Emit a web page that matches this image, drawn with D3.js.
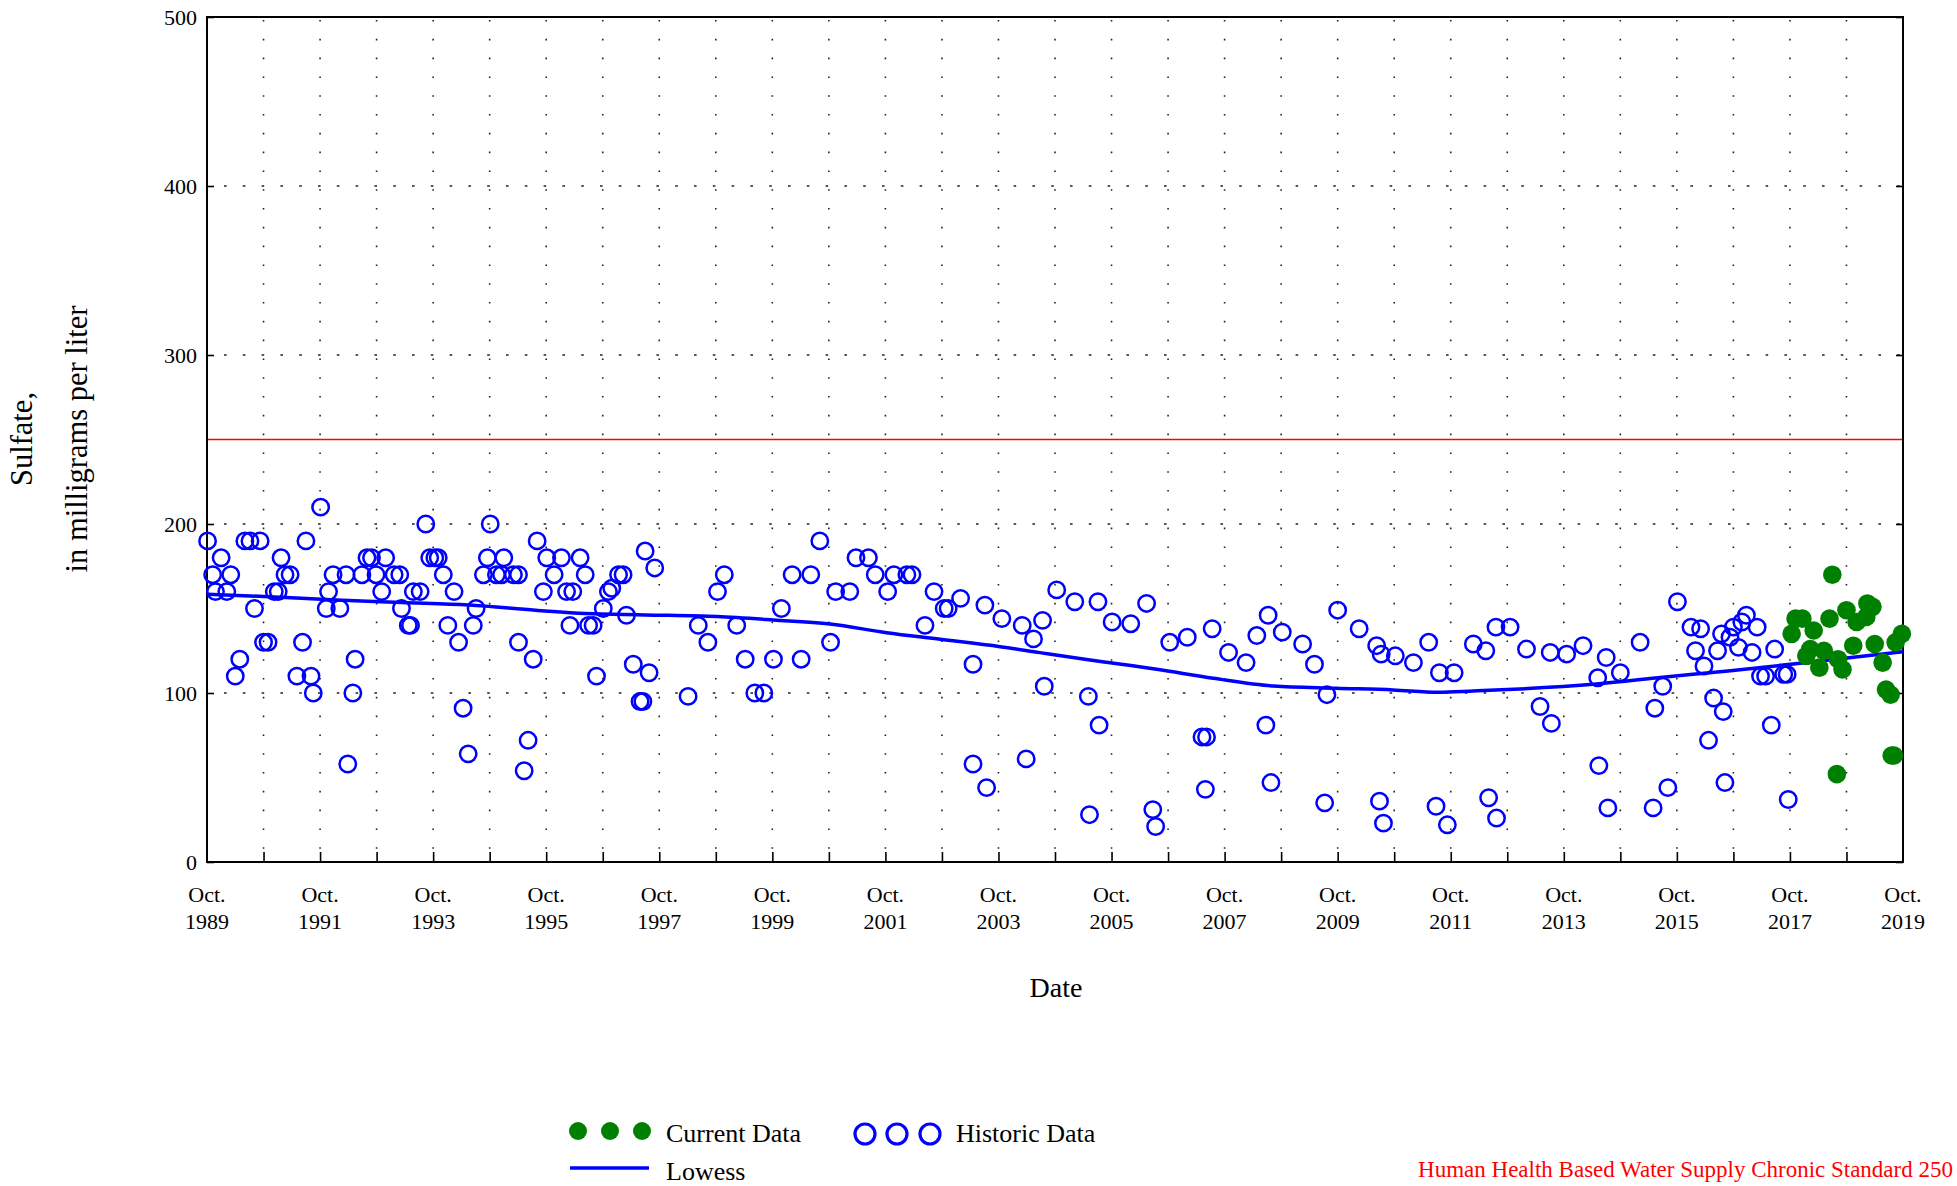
<!DOCTYPE html>
<html>
<head>
<meta charset="utf-8">
<script src="https://cdn.jsdelivr.net/npm/d3@7"></script>
<style>
  body { margin: 0; background: #fff; }
  text { font-family: "Liberation Serif", "Times New Roman", serif; fill: #000; }
</style>
</head>
<body>
<svg id="chart" width="1957" height="1186"></svg>
<script>
// sample dates as decimal years, values in mg/L
const historic = [
  [1989.76,190],[1989.85,170],[1989.90,160],[1990.00,180],[1990.10,160],[1990.17,170],
  [1990.25,110],[1990.33,120],[1990.42,190],[1990.51,190],[1990.59,150],[1990.69,190],
  [1990.75,130],[1990.83,130],[1990.94,160],[1991.01,160],[1991.06,180],[1991.13,170],
  [1991.22,170],[1991.34,110],[1991.44,130],[1991.50,190],[1991.59,110],[1991.63,100],
  [1991.76,210],[1991.86,150],[1991.90,160],[1991.98,170],[1992.10,150],[1992.21,170],
  [1992.24,58],[1992.33,100],[1992.37,120],[1992.49,170],[1992.58,180],[1992.66,180],
  [1992.74,170],[1992.84,160],[1992.91,180],[1993.06,170],[1993.16,170],[1993.19,150],
  [1993.31,140],[1993.35,140],[1993.40,160],[1993.52,160],[1993.62,200],[1993.69,180],
  [1993.78,180],[1993.84,180],[1993.93,170],[1994.01,140],[1994.12,160],[1994.20,130],
  [1994.28,91],[1994.37,64],[1994.46,140],[1994.51,150],[1994.64,170],[1994.71,180],
  [1994.76,200],[1994.87,170],[1994.96,170],[1995.00,180],[1995.17,170],[1995.26,170],
  [1995.26,130],[1995.36,54],[1995.43,72],[1995.52,120],[1995.59,190],[1995.70,160],
  [1995.76,180],[1995.89,170],[1996.02,180],[1996.11,160],[1996.17,140],[1996.22,160],
  [1996.35,180],[1996.44,170],[1996.50,140],[1996.58,140],[1996.64,110],[1996.76,150],
  [1996.85,160],[1996.91,162],[1997.03,170],[1997.11,170],[1997.17,146],[1997.29,117],
  [1997.41,95],[1997.46,95],[1997.50,184],[1997.57,112],[1997.67,174],
  [1998.26,98],[1998.44,140],[1998.61,130],[1998.78,160],[1998.90,170],[1999.12,140],
  [1999.27,120],[1999.44,100],[1999.60,100],[1999.77,120],[1999.91,150],[2000.10,170],
  [2000.26,120],[2000.43,170],[2000.59,190],[2000.78,130],[2000.87,160],[2001.12,160],
  [2001.23,180],[2001.45,180],[2001.57,170],[2001.79,160],[2001.90,170],[2002.13,170],
  [2002.22,170],[2002.45,140],[2002.61,160],[2002.79,150],[2002.86,150],[2003.08,156],
  [2003.30,117],[2003.30,58],[2003.51,152],[2003.54,44],[2003.81,144],[2004.17,140],
  [2004.24,61],[2004.37,132],[2004.53,143],[2004.56,104],[2004.78,161],[2005.10,154],
  [2005.34,98],[2005.36,28],
  [2005.51,154],[2005.53,81],[2005.76,142],[2006.09,141],[2006.37,153],[2006.48,31],
  [2006.53,21],[2006.78,130],[2007.09,133],[2007.35,74],[2007.43,74],[2007.41,43],
  [2007.53,138],[2007.82,124],[2008.13,118],[2008.32,134],[2008.48,81],[2008.52,146],
  [2008.57,47],[2008.77,136],[2009.13,129],[2009.34,117],[2009.52,35],[2009.56,99],
  [2009.75,149],[2010.13,138],[2010.44,128],[2010.49,36],[2010.52,123],[2010.56,23],
  [2010.77,122],[2011.09,118],[2011.36,130],[2011.49,33],[2011.55,112],[2011.69,22],
  [2011.81,112],[2012.15,129],[2012.37,125],[2012.42,38],[2012.55,139],[2012.56,26],
  [2012.80,139],[2013.09,126],
  [2013.33,92],[2013.51,124],[2013.53,82],[2013.80,123],[2014.09,128],[2014.35,109],
  [2014.37,57],[2014.50,121],[2014.53,32],[2014.75,112],[2015.10,130],[2015.33,32],
  [2015.36,91],[2015.50,104],[2015.59,44],[2015.76,154],[2016.00,139],[2016.08,125],
  [2016.17,138],[2016.23,116],[2016.31,72],[2016.40,97],[2016.47,125],[2016.54,135],
  [2016.57,89],[2016.60,47],[2016.69,133],[2016.75,139],[2016.84,127],[2016.90,142],
  [2016.98,146],[2017.08,124],[2017.17,139],[2017.23,110],[2017.32,110],[2017.42,81],
  [2017.48,126],[2017.64,111],[2017.70,111],[2017.72,37]
];

const current = [
  [2017.78,135],[2017.85,144],[2017.97,144],[2018.04,122],[2018.11,126],[2018.17,137],
  [2018.27,115],[2018.35,125],[2018.45,144],[2018.50,170],[2018.58,52],[2018.60,120],
  [2018.68,114],[2018.75,149],[2018.87,128],[2018.93,142],[2019.10,145],[2019.12,153],
  [2019.21,151],[2019.25,129],[2019.39,118],[2019.45,102],[2019.53,99],[2019.55,63],
  [2019.59,63],[2019.62,130],[2019.73,135]
];

const lowess = [
  [1989.75,158.5],[1990.85,157],[1992.03,155],[1993.2,153.5],[1994.38,152],[1995.56,149],
  [1996.44,147],[1997.5,146.2],[1998.77,145.2],[1999.77,143.2],[2000.77,140.8],
  [2001.77,135.7],[2002.72,131.8],[2003.78,127.4],[2004.48,123.9],[2005.37,119.5],
  [2006.55,114],[2007.55,108.7],[2008.61,104.1],[2009.73,102.8],[2010.73,101.8],
  [2011.53,100.4],[2012.15,101.2],[2012.86,102.2],[2014.32,105.3],[2015.5,109.3],
  [2016.7,113.2],[2017.93,117.6],[2019.75,124.5]
];

const yTicks = [0, 100, 200, 300, 400, 500];
const xLabelYears = [1989, 1991, 1993, 1995, 1997, 1999, 2001, 2003, 2005, 2007, 2009, 2011, 2013, 2015, 2017, 2019];
const gridYears = d3.range(1990, 2019); // October of each year
const standard = 250;
const standardLabel = "Human Health Based Water Supply Chronic Standard 250";

const svg = d3.select("#chart");
const pLeft = 207, pRight = 1903, pTop = 17, pBottom = 862;

const x = d3.scaleLinear().domain([1989.75, 2019.75]).range([pLeft, pRight]);
const y = d3.scaleLinear().domain([0, 500]).range([pBottom, pTop]);

// dotted grid
svg.append("g").selectAll("line").data(gridYears).enter().append("line")
  .attr("x1", d => x(d + 0.75)).attr("x2", d => x(d + 0.75))
  .attr("y1", pTop + 3).attr("y2", pBottom)
  .attr("stroke", "#222").attr("stroke-width", 1.6)
  .attr("stroke-dasharray", "1.6,17.2");

svg.append("g").selectAll("line").data(yTicks.slice(1, -1)).enter().append("line")
  .attr("x1", pLeft + 17).attr("x2", pRight)
  .attr("y1", d => y(d)).attr("y2", d => y(d))
  .attr("stroke", "#222").attr("stroke-width", 1.6)
  .attr("stroke-dasharray", "2.6,16.2");

// standard line
svg.append("line")
  .attr("x1", pLeft).attr("x2", pRight)
  .attr("y1", y(standard)).attr("y2", y(standard))
  .attr("stroke", "#ff0000").attr("stroke-width", 1.3);

// axes
const xAxis = d3.axisBottom(x).tickValues(gridYears.map(d => d + 0.75))
  .tickSize(-10).tickFormat("");
svg.append("g").attr("transform", `translate(0,${pBottom})`).call(xAxis)
  .call(g => g.select(".domain").remove())
  .selectAll("line").attr("stroke", "#000").attr("stroke-width", 1.6);

const yAxis = d3.axisLeft(y).tickValues(yTicks).tickSize(-7).tickFormat("");
svg.append("g").attr("transform", `translate(${pLeft},0)`).call(yAxis)
  .call(g => g.select(".domain").remove())
  .selectAll("line").attr("stroke", "#000").attr("stroke-width", 1.6);

const yAxisR = d3.axisRight(y).tickValues(yTicks).tickSize(-7).tickFormat("");
svg.append("g").attr("transform", `translate(${pRight},0)`).call(yAxisR)
  .call(g => g.select(".domain").remove())
  .selectAll("line").attr("stroke", "#000").attr("stroke-width", 1.6);

svg.append("rect")
  .attr("x", pLeft).attr("y", pTop)
  .attr("width", pRight - pLeft).attr("height", pBottom - pTop)
  .attr("fill", "none").attr("stroke", "#000").attr("stroke-width", 2);

// tick labels
svg.append("g").selectAll("text").data(yTicks).enter().append("text")
  .attr("x", pLeft - 10).attr("y", d => y(d)).attr("dy", "0.35em")
  .attr("text-anchor", "end").style("font-size", "22px")
  .text(d => d);

const xl = svg.append("g").selectAll("text").data(xLabelYears).enter().append("text")
  .attr("text-anchor", "middle").style("font-size", "22px");
xl.append("tspan").attr("x", d => x(d + 0.75)).attr("y", 902).text("Oct.");
xl.append("tspan").attr("x", d => x(d + 0.75)).attr("y", 929).text(d => d);

// axis titles
svg.append("text").attr("x", 1056).attr("y", 997)
  .attr("text-anchor", "middle").style("font-size", "28px").text("Date");

svg.append("text").attr("transform", "translate(32,439) rotate(-90)")
  .attr("text-anchor", "middle").style("font-size", "30.5px").text("Sulfate,");
svg.append("text").attr("transform", "translate(87,439) rotate(-90)")
  .attr("text-anchor", "middle").style("font-size", "30.5px").text("in milligrams per liter");

// data
const plot = svg.append("g");

plot.append("path")
  .datum(lowess)
  .attr("fill", "none").attr("stroke", "#0000ff").attr("stroke-width", 3.5)
  .attr("d", d3.line().x(d => x(d[0])).y(d => y(d[1])).curve(d3.curveMonotoneX));

plot.selectAll("circle.hist").data(historic).enter().append("circle")
  .attr("class", "hist")
  .attr("cx", d => x(d[0])).attr("cy", d => y(d[1])).attr("r", 8.2)
  .attr("fill", "none").attr("stroke", "#0000ff").attr("stroke-width", 2.5);

plot.selectAll("circle.cur").data(current).enter().append("circle")
  .attr("class", "cur")
  .attr("cx", d => x(d[0])).attr("cy", d => y(d[1])).attr("r", 9.3)
  .attr("fill", "#008000");

// legend
const legend = svg.append("g");
[578, 610, 642].forEach(cx => {
  legend.append("circle").attr("cx", cx).attr("cy", 1131).attr("r", 9).attr("fill", "#008000");
});
legend.append("text").attr("x", 666).attr("y", 1142).style("font-size", "26px").text("Current Data");

[865, 897, 930].forEach(cx => {
  legend.append("circle").attr("cx", cx).attr("cy", 1134).attr("r", 10)
    .attr("fill", "none").attr("stroke", "#0000ff").attr("stroke-width", 3.2);
});
legend.append("text").attr("x", 956).attr("y", 1142).style("font-size", "26px").text("Historic Data");

legend.append("line").attr("x1", 570).attr("x2", 649).attr("y1", 1168).attr("y2", 1168)
  .attr("stroke", "#0000ff").attr("stroke-width", 3.5);
legend.append("text").attr("x", 666).attr("y", 1180).style("font-size", "26px").text("Lowess");

svg.append("text").attr("x", 1953).attr("y", 1177)
  .attr("text-anchor", "end").style("font-size", "23px").style("fill", "#ff0000")
  .text(standardLabel);
</script>
</body>
</html>
